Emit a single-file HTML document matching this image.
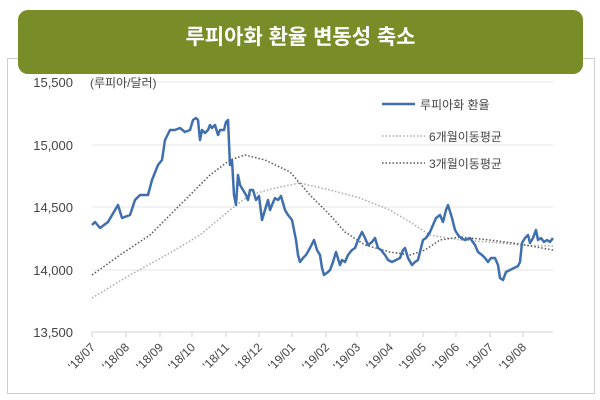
<!DOCTYPE html>
<html><head><meta charset="utf-8"><style>
body{margin:0;background:#fff;width:600px;height:400px;overflow:hidden;font-family:"Liberation Sans","Noto Sans CJK KR",sans-serif}
.panel{position:absolute;left:7px;top:58px;width:586px;height:334px;border:1px solid #ccc}
.head{position:absolute;left:18px;top:10px;width:565px;height:64px;background:#788c28;border-radius:10px;color:#fff;font-size:21px;font-weight:bold;text-align:center;line-height:56px}
svg{position:absolute;left:0;top:0}
</style></head><body>
<div class="panel"></div>
<div class="head">루피아화 환율 변동성 축소</div>
<svg width="600" height="400" font-family="Liberation Sans, Noto Sans CJK KR, sans-serif">
<g stroke="#e6e6e6" stroke-width="1">
<line x1="92" y1="82" x2="553" y2="82"/><line x1="92" y1="145" x2="553" y2="145"/><line x1="92" y1="207" x2="553" y2="207"/><line x1="92" y1="270" x2="553" y2="270"/>
</g>
<line x1="92" y1="332" x2="553" y2="332" stroke="#d0d0d0"/>
<g stroke="#d0d0d0">
<line x1="92" y1="332" x2="92" y2="337"/><line x1="126" y1="332" x2="126" y2="337"/><line x1="160" y1="332" x2="160" y2="337"/><line x1="192" y1="332" x2="192" y2="337"/><line x1="226" y1="332" x2="226" y2="337"/><line x1="259" y1="332" x2="259" y2="337"/><line x1="292" y1="332" x2="292" y2="337"/><line x1="326" y1="332" x2="326" y2="337"/><line x1="357" y1="332" x2="357" y2="337"/><line x1="390" y1="332" x2="390" y2="337"/><line x1="423" y1="332" x2="423" y2="337"/><line x1="456" y1="332" x2="456" y2="337"/><line x1="490" y1="332" x2="490" y2="337"/><line x1="523" y1="332" x2="523" y2="337"/>
</g>
<g font-size="13" fill="#444" text-anchor="end">
<text x="73" y="87">15,500</text><text x="73" y="150">15,000</text><text x="73" y="212">14,500</text><text x="73" y="275">14,000</text><text x="73" y="337">13,500</text>
</g>
<text x="90" y="87" font-size="12" fill="#444">(루피아/달러)</text>
<g font-size="12" fill="#444" text-anchor="end">
<text transform="translate(96,348) rotate(-45)">'18/07</text>
<text transform="translate(130,348) rotate(-45)">'18/08</text>
<text transform="translate(164,348) rotate(-45)">'18/09</text>
<text transform="translate(196,348) rotate(-45)">'18/10</text>
<text transform="translate(230,348) rotate(-45)">'18/11</text>
<text transform="translate(263,348) rotate(-45)">'18/12</text>
<text transform="translate(296,348) rotate(-45)">'19/01</text>
<text transform="translate(330,348) rotate(-45)">'19/02</text>
<text transform="translate(361,348) rotate(-45)">'19/03</text>
<text transform="translate(394,348) rotate(-45)">'19/04</text>
<text transform="translate(427,348) rotate(-45)">'19/05</text>
<text transform="translate(460,348) rotate(-45)">'19/06</text>
<text transform="translate(494,348) rotate(-45)">'19/07</text>
<text transform="translate(527,348) rotate(-45)">'19/08</text>
</g>
<polyline fill="none" stroke="#aaa" stroke-width="1.5" stroke-dasharray="1.5,2" points="92,298 130,275 170,253 200,235 230,210 250,195 275,188 300,183 330,190 360,198 390,210 410,222 430,235 460,240 490,242 520,245 553,246"/>
<polyline fill="none" stroke="#555" stroke-width="1.5" stroke-dasharray="1.5,2" points="92,275 120,255 150,235 170,215 190,195 210,175 230,160 245,155 265,160 290,172 310,195 330,215 345,232 365,245 390,252 410,255 425,250 440,240 460,237 490,240 520,244 553,250"/>
<polyline fill="none" stroke="#3f6fae" stroke-width="2.5" stroke-linejoin="round" points="92,225 95,222 100,228 108,222 115,210 118,205 122,218 130,215 135,200 140,195 148,195 152,180 158,165 162,160 165,140 170,130 175,130 180,128 185,132 190,130 193,120 196,118 198,120 200,140 202,130 205,133 208,130 210,125 212,128 215,125 218,135 220,130 224,130 226,122 228,120 230,165 232,160 234,195 236,205 238,175 240,185 243,190 246,195 248,200 250,190 253,190 256,200 259,196 262,220 265,210 268,200 270,210 272,205 275,198 278,200 281,196 285,210 288,215 292,220 296,240 298,255 300,262 303,258 306,255 310,248 314,240 317,250 320,255 322,268 324,275 328,272 330,270 333,262 336,252 340,265 342,260 345,262 348,255 352,250 355,248 358,240 362,232 365,238 368,245 372,242 375,238 378,248 381,250 385,255 388,260 392,262 396,260 400,258 403,250 405,248 408,258 412,265 415,262 418,260 420,252 423,240 426,238 430,232 433,225 436,218 440,215 443,222 446,210 448,205 452,218 455,230 458,235 461,238 465,240 470,238 475,245 478,252 482,255 485,258 488,262 491,258 495,258 498,265 500,278 503,280 506,272 510,270 514,268 518,266 520,262 522,243 525,238 528,235 530,243 533,238 536,230 538,240 541,238 544,242 547,240 550,242 553,238"/>
<line x1="382" y1="104" x2="415" y2="104" stroke="#3f6fae" stroke-width="2.5"/>
<line x1="382" y1="136" x2="425" y2="136" stroke="#aaa" stroke-width="1.5" stroke-dasharray="1.5,2"/>
<line x1="382" y1="163" x2="425" y2="163" stroke="#555" stroke-width="1.5" stroke-dasharray="1.5,2"/>
<g font-size="12" fill="#444">
<text x="420" y="109">루피아화 환율</text>
<text x="429" y="141">6개월이동평균</text>
<text x="429" y="168">3개월이동평균</text>
</g>
</svg>
</body></html>
